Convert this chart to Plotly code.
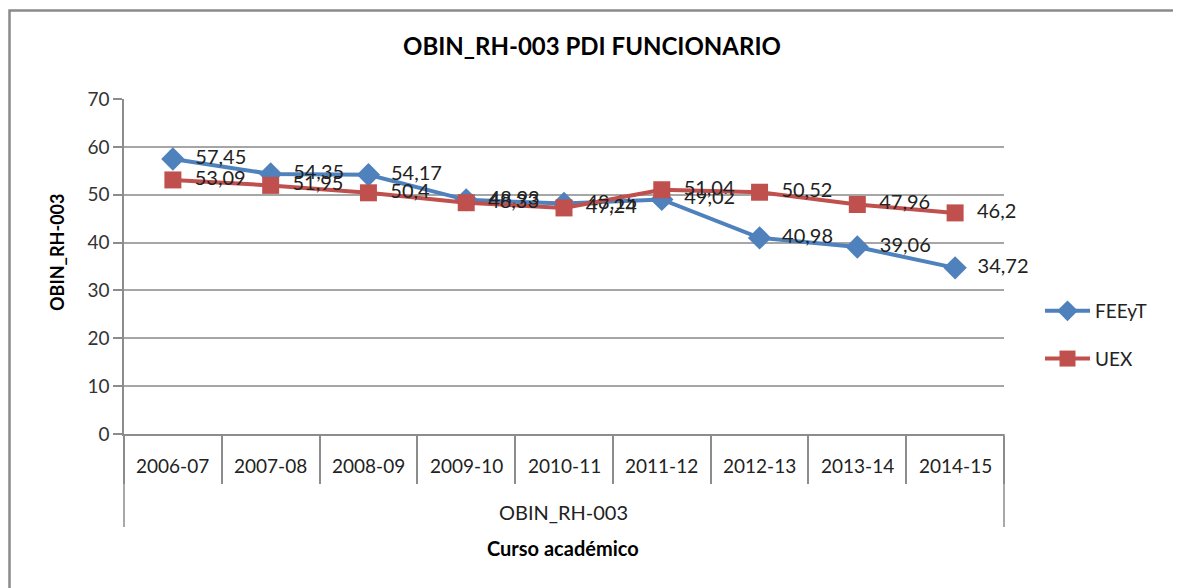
import plotly.graph_objects as go

categories = ["2006-07", "2007-08", "2008-09", "2009-10", "2010-11",
              "2011-12", "2012-13", "2013-14", "2014-15"]
feeyt = [57.45, 54.35, 54.17, 48.93, 48.15, 49.02, 40.98, 39.06, 34.72]
uex = [53.09, 51.95, 50.4, 48.33, 47.24, 51.04, 50.52, 47.96, 46.2]
y_ticks = [0, 10, 20, 30, 40, 50, 60, 70]

FONT = "Lato, Open Sans, sans-serif"
GRAY = "#8c8c8c"

def fmt(v):
    return "  " + ("%g" % v).replace(".", ",")

# page has an 8px body margin; work in page pixels and convert
OFF = 8
W, H = 1181 - OFF, 588 - OFF
PX_L, PX_R, PX_T, PX_B = 124, 1004, 99, 434   # plot area in page pixels
L = PX_L - OFF
T = PX_T - OFF
R = W - (PX_R - OFF)
B = H - (PX_B - OFF)
PW = PX_R - PX_L
PH = PX_B - PX_T

def py(p):
    return (PX_B - p) / PH

def px(p):
    return (p - PX_L) / PW

fig = go.Figure()
fig.add_trace(go.Scatter(
    x=categories, y=feeyt, name="FEEyT", mode="lines+markers+text",
    legendgroup="a",
    line=dict(color="#4F81BD", width=4),
    marker=dict(symbol="diamond", size=18, color="#4F81BD"),
    text=[fmt(v) for v in feeyt], textposition="middle right",
    textfont=dict(family=FONT, size=20, color="#222222"),
    cliponaxis=False,
))
fig.add_trace(go.Scatter(
    x=categories, y=uex, name="UEX", mode="lines+markers+text",
    legendgroup="b",
    line=dict(color="#C0504D", width=4),
    marker=dict(symbol="square", size=17, color="#C0504D"),
    text=[fmt(v) for v in uex], textposition="middle right",
    textfont=dict(family=FONT, size=20, color="#222222"),
    cliponaxis=False,
))

annotations = []
for c in categories:
    annotations.append(dict(x=c, xref="x", y=py(465), yref="paper",
                            text=c, showarrow=False,
                            font=dict(family=FONT, size=19, color="#222222"),
                            xanchor="center", yanchor="middle"))
annotations.append(dict(x=px(563), xref="paper", y=py(512), yref="paper",
                        text="OBIN_RH-003", showarrow=False,
                        font=dict(family=FONT, size=20, color="#222222"),
                        xanchor="center", yanchor="middle"))
annotations.append(dict(x=px(563), xref="paper", y=py(548), yref="paper",
                        text="<b>Curso académico</b>", showarrow=False,
                        font=dict(family=FONT, size=20, color="#000000"),
                        xanchor="center", yanchor="middle"))
annotations.append(dict(x=px(57), xref="paper", y=py(253), yref="paper",
                        text="<b>OBIN_RH-003</b>", showarrow=False, textangle=-90,
                        font=dict(family=FONT, size=18, color="#000000"),
                        xanchor="center", yanchor="middle"))

shapes = [
    dict(type="line", xref="paper", yref="paper", x0=0, x1=0,
         y0=0, y1=py(527), line=dict(color=GRAY, width=1.5)),
    dict(type="line", xref="paper", yref="paper", x0=1, x1=1,
         y0=0, y1=py(527), line=dict(color=GRAY, width=1.5)),
    dict(type="rect", xref="paper", yref="paper", x0=px(9.5), x1=px(1400),
         y0=py(800), y1=py(10.5), line=dict(color="#8a8a8a", width=2.5),
         layer="below"),
]

fig.update_layout(
    width=W, height=H,
    margin=dict(l=L, r=R, t=T, b=B, autoexpand=False),
    paper_bgcolor="white", plot_bgcolor="white",
    font=dict(family=FONT, size=18, color="#222222"),
    title=dict(text="<b>OBIN_RH-003 PDI FUNCIONARIO</b>",
               x=(592 - OFF) / W, xanchor="center",
               y=1 - (47 - OFF) / H, yanchor="middle",
               font=dict(family=FONT, size=24, color="#000000")),
    xaxis=dict(type="category", range=[-0.5, len(categories) - 0.5],
               showticklabels=False, ticks="outside",
               tickson="boundaries", ticklen=48, tickcolor=GRAY, tickwidth=1.5,
               showline=True, linecolor=GRAY, linewidth=1.5,
               showgrid=False, zeroline=False, fixedrange=True,
               automargin=False),
    yaxis=dict(range=[0, 70], tickvals=y_ticks, ticks="outside", ticklen=9,
               tickcolor=GRAY, tickwidth=1.5,
               showline=True, linecolor=GRAY, linewidth=1.5,
               showgrid=True, gridcolor="#a6a6a6", gridwidth=1.5,
               zeroline=False, automargin=False,
               tickfont=dict(family=FONT, size=19, color="#333333")),
    legend=dict(x=px(1040), xanchor="left", y=py(292), yanchor="top",
                font=dict(family=FONT, size=19, color="#222222"),
                tracegroupgap=20, itemwidth=45, bgcolor="rgba(0,0,0,0)"),
    annotations=annotations,
    shapes=shapes,
    showlegend=True,
)

fig.write_html("out.html")
